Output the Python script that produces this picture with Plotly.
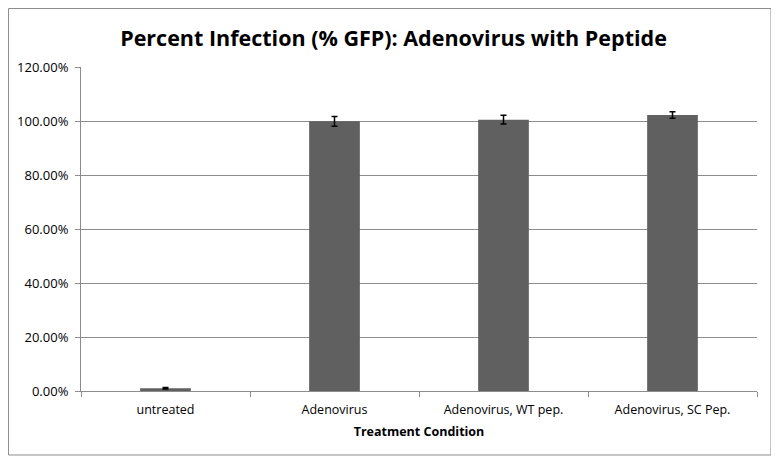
import plotly.graph_objects as go

# values
conditions = ["untreated", "Adenovirus", "Adenovirus, WT pep.", "Adenovirus, SC Pep."]
infection = [0.010, 0.999, 1.005, 1.022]
errors = [0.003, 0.018, 0.016, 0.012]
yticks = [0, 0.2, 0.4, 0.6, 0.8, 1.0, 1.2]

fig = go.Figure()
fig.add_trace(go.Bar(
    x=conditions, y=infection,
    marker=dict(color="#606060", line=dict(width=0)),
    error_y=dict(type="data", array=errors, visible=True,
                 color="black", thickness=1.5, width=3),
    width=0.3,
))

# page has an 8px body margin, so the figure is a bit smaller than the window
fig.update_layout(
    width=771, height=457,
    margin=dict(l=73, r=22, t=59, b=74),
    paper_bgcolor="white", plot_bgcolor="white",
    showlegend=False,
    font=dict(family="Open Sans, Liberation Sans, sans-serif", size=12, color="black"),
    title=dict(text="<b>Percent Infection (% GFP): Adenovirus with Peptide</b>",
               x=0.5, xanchor="center", y=0.934, yanchor="middle",
               font=dict(size=21.5, color="black")),
    xaxis=dict(
        title=dict(text="<b>Treatment Condition</b>", font=dict(size=12.5), standoff=10),
        showline=True, linecolor="#8c8c8c", linewidth=1,
        ticks="outside", tickson="boundaries", ticklen=5, tickcolor="#8c8c8c",
        tickfont=dict(size=12.5), ticklabelstandoff=7, automargin=False,
    ),
    yaxis=dict(
        range=[0, 1.2], tickvals=yticks, tickformat=".2%",
        showline=True, linecolor="#8c8c8c", linewidth=1,
        ticks="outside", ticklen=5, tickcolor="#8c8c8c",
        showgrid=True, gridcolor="#8c8c8c", gridwidth=1,
        zeroline=False, tickfont=dict(size=13), ticklabelstandoff=4,
        automargin=False,
    ),
)

# outer chart border
fig.add_shape(type="rect", xref="paper", yref="paper",
              x0=-0.1072, x1=1.0207, y0=-0.1975, y1=1.1806,
              line=dict(color="#8c8c8c", width=1), layer="below")

fig.write_html("out.html")
